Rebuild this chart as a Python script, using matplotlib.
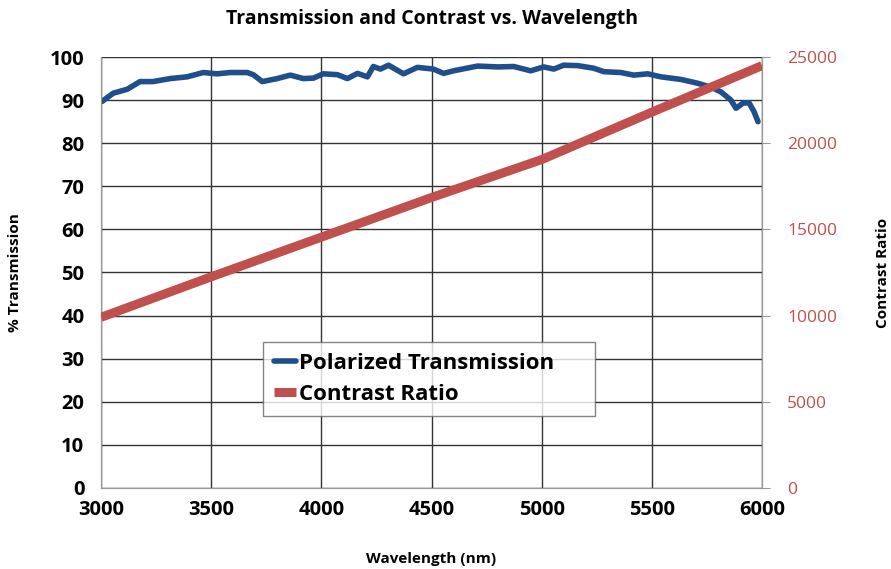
import matplotlib.pyplot as plt

plt.rcParams['font.family'] = ['Open Sans', 'DejaVu Sans']

# polarized transmission
wl_t = [3005, 3055, 3118, 3177, 3236, 3314, 3391, 3464, 3527, 3586, 3664, 3691,
        3732, 3800, 3859, 3918, 3964, 4009, 4073, 4118, 4164, 4209, 4236, 4268,
        4305, 4373, 4436, 4509, 4555, 4600, 4709, 4800, 4873, 4950, 5009, 5055,
        5100, 5164, 5236, 5282, 5359, 5418, 5482, 5541, 5632, 5709, 5768, 5814,
        5859, 5882, 5914, 5941, 5964, 5982]
trans = [89.7, 91.6, 92.5, 94.3, 94.3, 95.0, 95.4, 96.4, 96.1, 96.4, 96.4, 95.9,
         94.3, 95.0, 95.8, 95.0, 95.1, 96.1, 95.9, 95.0, 96.2, 95.4, 97.8, 97.2,
         98.1, 96.1, 97.6, 97.2, 96.2, 96.8, 97.9, 97.7, 97.8, 96.8, 97.7, 97.2,
         98.1, 98.0, 97.4, 96.6, 96.4, 95.8, 96.1, 95.4, 94.8, 93.9, 93.0, 91.9,
         90.0, 88.1, 89.3, 89.4, 87.3, 85.0]

# contrast ratio
wl_c = [3000, 3500, 4000, 4500, 5000, 5500, 6000]
contrast = [9900, 12250, 14550, 16850, 19050, 21800, 24500]

blue = '#1f4e8c'
red = '#c0504d'

fig = plt.figure(figsize=(8.91, 5.69), dpi=100)
ax = fig.add_axes([0.1134, 0.1424, 0.7418, 0.7574])
ax2 = ax.twinx()

l1, = ax.plot(wl_t, trans, color=blue, lw=4, solid_capstyle='round', zorder=3)
l2, = ax2.plot(wl_c, contrast, color=red, lw=6.5, solid_capstyle='butt', zorder=3)

ax.set_xlim(3000, 6000)
ax.set_ylim(0, 100)
ax2.set_ylim(0, 25000)
ax.set_xticks(range(3000, 6001, 500))
ax.set_yticks(range(0, 101, 10))
ax2.set_yticks(range(0, 25001, 5000))

ax.grid(True, color='#333333', lw=1)
ax.set_axisbelow(True)
for s in ['left', 'bottom', 'right', 'top']:
    ax.spines[s].set_color('#999999')
    ax2.spines[s].set_color('#999999')
ax.spines['top'].set_visible(False)
ax2.spines['top'].set_visible(False)

ax.tick_params(axis='both', length=0, labelsize=14.5, pad=12)
ax.tick_params(axis='x', pad=9)
for lab in ax.get_xticklabels() + ax.get_yticklabels():
    lab.set_fontweight('bold')
ax2.tick_params(axis='y', length=6, color='#999999', labelsize=12.5,
                labelcolor=red, pad=12)

ax.set_title('Transmission and Contrast vs. Wavelength', fontsize=14,
             fontweight='bold', pad=24)
ax.set_xlabel('Wavelength (nm)', fontsize=11, fontweight='bold', labelpad=23)
ax.set_ylabel('% Transmission', fontsize=11, fontweight='bold', labelpad=20)
ax2.set_ylabel('Contrast Ratio', fontsize=11, fontweight='bold', labelpad=28)

leg = ax2.legend([l1, l2], ['Polarized Transmission', 'Contrast Ratio'],
                 loc='lower left', bbox_to_anchor=(0.245, 0.167, 0.502, 0.17),
                 mode='expand', fontsize=16, frameon=True, fancybox=False,
                 handlelength=1.0, handletextpad=0.1, borderpad=0.5,
                 labelspacing=0.45, borderaxespad=0)
leg.get_frame().set_edgecolor('#666666')
leg.get_frame().set_linewidth(1)
for t in leg.get_texts():
    t.set_fontweight('bold')

fig.savefig('out.png', dpi=100)
